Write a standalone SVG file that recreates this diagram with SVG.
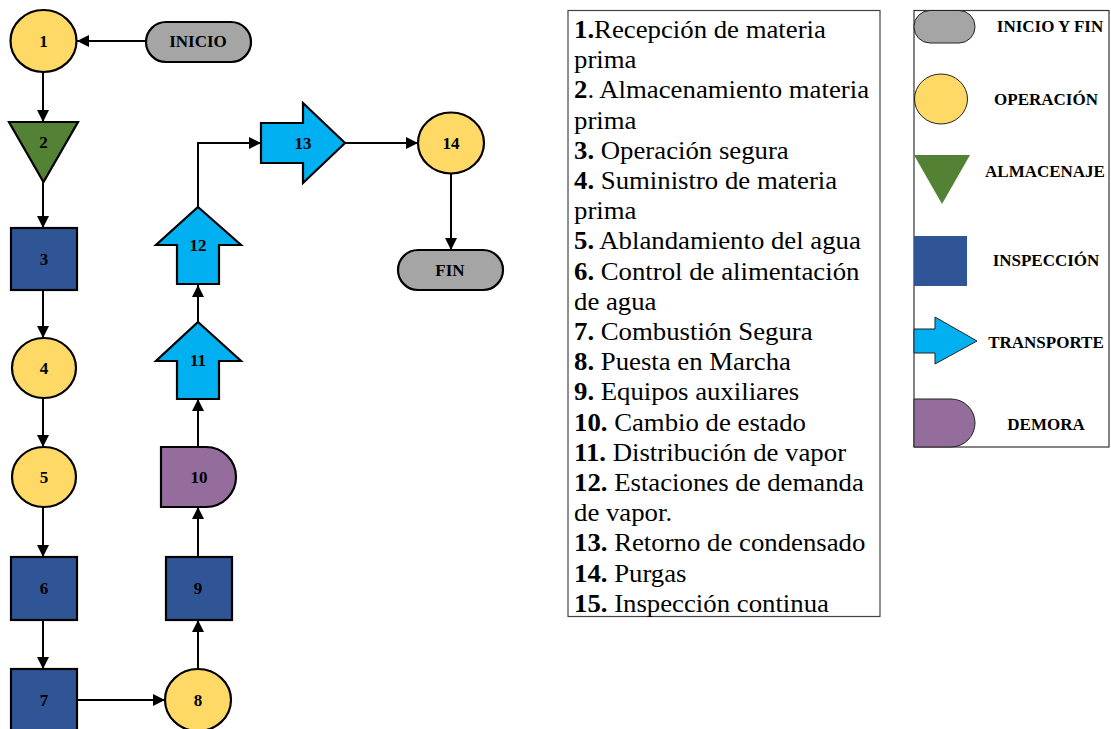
<svg xmlns="http://www.w3.org/2000/svg" width="1111" height="729" viewBox="0 0 1111 729">
<defs>
<marker id="ah" markerUnits="userSpaceOnUse" markerWidth="12" markerHeight="12" viewBox="0 0 12 12" refX="12" refY="6" orient="auto">
<path d="M0,0 L12,6 L0,12 Z" fill="#000"/>
</marker>
</defs>
<style>
text{font-family:'Liberation Serif','DejaVu Serif','Noto Serif',serif}
.lbl{font-weight:bold;font-size:17px;text-anchor:middle;dominant-baseline:central;fill:#000}
.s{stroke:#000;stroke-width:2.2}
.t{stroke:#222;stroke-width:1}
.yel{fill:#FFD966}
.gry{fill:#A5A5A5}
.grn{fill:#548235}
.blu{fill:#2F5597}
.cyn{fill:#00B0F0}
.pur{fill:#956D9C}
.con{fill:none;stroke:#000;stroke-width:2;marker-end:url(#ah)}
.desc{font-size:26px;fill:#000}
.b{font-weight:bold}
</style>
<rect width="1111" height="729" fill="#fff"/>

<g id="connectors">
<path class="con" d="M146,41 H77"/>
<path class="con" d="M43,72 V122"/>
<path class="con" d="M43,182 V228"/>
<path class="con" d="M43,290 V338"/>
<path class="con" d="M43,398 V447"/>
<path class="con" d="M43,507 V557"/>
<path class="con" d="M43,620 V669"/>
<path class="con" d="M77,700 H165"/>
<path class="con" d="M198,669 V620"/>
<path class="con" d="M198,557 V507"/>
<path class="con" d="M198,447 V399"/>
<path class="con" d="M198,322 V285"/>
<path class="con" d="M198,207 V143 H261"/>
<path class="con" d="M345,143 H418"/>
<path class="con" d="M451,174 V250"/>
</g>

<g id="inicio"><rect class="s gry" x="146" y="22" width="105" height="40" rx="20"/><text class="lbl" x="198" y="41">INICIO</text></g>
<g id="n1"><ellipse class="s yel" cx="43.5" cy="41" rx="33" ry="31"/><text class="lbl" x="43.5" y="41">1</text></g>
<g id="n2"><path class="s grn" d="M9,122 H78 L43.5,182 Z"/><text class="lbl" x="43.5" y="142">2</text></g>
<g id="n3"><rect class="s blu" x="11" y="228" width="66" height="62"/><text class="lbl" x="44" y="259">3</text></g>
<g id="n4"><ellipse class="s yel" cx="44" cy="368" rx="32" ry="30"/><text class="lbl" x="44" y="368">4</text></g>
<g id="n5"><ellipse class="s yel" cx="44" cy="477" rx="32" ry="30"/><text class="lbl" x="44" y="477">5</text></g>
<g id="n6"><rect class="s blu" x="11" y="557" width="66" height="63"/><text class="lbl" x="44" y="588">6</text></g>
<g id="n7"><rect class="s blu" x="11" y="669" width="66" height="64"/><text class="lbl" x="44" y="700">7</text></g>
<g id="n8"><ellipse class="s yel" cx="198" cy="700" rx="33" ry="31"/><text class="lbl" x="198" y="700">8</text></g>
<g id="n9"><rect class="s blu" x="166" y="557" width="66" height="63"/><text class="lbl" x="198" y="588">9</text></g>
<g id="n10"><path class="s pur" d="M161,447 H206 A30,30 0 0 1 206,507 H161 Z"/><text class="lbl" x="199" y="477">10</text></g>
<g id="n11"><path class="s cyn" d="M198,322 L241,361 H219 V399 H177 V361 H156 Z"/><text class="lbl" x="198" y="360">11</text></g>
<g id="n12"><path class="s cyn" d="M198,207 L241,245 H219 V284 H177 V245 H156 Z"/><text class="lbl" x="198" y="245">12</text></g>
<g id="n13"><path class="s cyn" d="M261,123 H303 V103 L345,143 L303,183 V163 H261 Z"/><text class="lbl" x="303" y="143">13</text></g>
<g id="n14"><ellipse class="s yel" cx="451" cy="143" rx="33" ry="30.5"/><text class="lbl" x="451" y="143">14</text></g>
<g id="fin"><rect class="s gry" x="398" y="250" width="105" height="40" rx="20"/><text class="lbl" x="450" y="270">FIN</text></g>

<g id="descripcion">
<rect x="568" y="10.5" width="312" height="606" fill="#fff" stroke="#444" stroke-width="1.2"/>
<g transform="translate(574,0) scale(1.03,1)">
<text class="desc" x="0" y="38"><tspan class="b">1.</tspan>Recepción de materia</text>
<text class="desc" x="0" y="68.2">prima</text>
<text class="desc" x="0" y="98.4"><tspan class="b">2</tspan>. Almacenamiento materia</text>
<text class="desc" x="0" y="128.6">prima</text>
<text class="desc" x="0" y="158.8"><tspan class="b">3.</tspan> Operación segura</text>
<text class="desc" x="0" y="189"><tspan class="b">4.</tspan> Suministro de materia</text>
<text class="desc" x="0" y="219.2">prima</text>
<text class="desc" x="0" y="249.4"><tspan class="b">5.</tspan> Ablandamiento del agua</text>
<text class="desc" x="0" y="279.6"><tspan class="b">6.</tspan> Control de alimentación</text>
<text class="desc" x="0" y="309.8">de agua</text>
<text class="desc" x="0" y="340"><tspan class="b">7.</tspan> Combustión Segura</text>
<text class="desc" x="0" y="370.2"><tspan class="b">8.</tspan> Puesta en Marcha</text>
<text class="desc" x="0" y="400.4"><tspan class="b">9.</tspan> Equipos auxiliares</text>
<text class="desc" x="0" y="430.6"><tspan class="b">10.</tspan> Cambio de estado</text>
<text class="desc" x="0" y="460.8"><tspan class="b">11.</tspan> Distribución de vapor</text>
<text class="desc" x="0" y="491"><tspan class="b">12.</tspan> Estaciones de demanda</text>
<text class="desc" x="0" y="521.2">de vapor.</text>
<text class="desc" x="0" y="551.4"><tspan class="b">13.</tspan> Retorno de condensado</text>
<text class="desc" x="0" y="581.6"><tspan class="b">14.</tspan> Purgas</text>
<text class="desc" x="0" y="611.8"><tspan class="b">15.</tspan> Inspección continua</text>
</g>
</g>

<g id="leyenda">
<rect x="914" y="10.5" width="195" height="436.5" fill="#fff" stroke="#333" stroke-width="1.2"/>
<g id="ley-inicio"><rect class="t gry" x="914" y="10.5" width="61" height="32.5" rx="16"/><text class="lbl" x="1050" y="26">INICIO Y FIN</text></g>
<g id="ley-operacion"><ellipse class="t yel" cx="941" cy="99" rx="26.5" ry="25"/><text class="lbl" x="1046" y="99">OPERACIÓN</text></g>
<g id="ley-almacenaje"><path class="grn" d="M914,155 H970 L942,204 Z"/><text class="lbl" x="1045" y="171">ALMACENAJE</text></g>
<g id="ley-inspeccion"><rect class="blu" x="914" y="236" width="53" height="50"/><text class="lbl" x="1046" y="260">INSPECCIÓN</text></g>
<g id="ley-transporte"><path class="t cyn" d="M914,329 H935 V317 L977,341 L935,364 V353 H914 Z"/><text class="lbl" x="1046" y="342">TRANSPORTE</text></g>
<g id="ley-demora"><path class="t pur" d="M914,399 H951 A24,24 0 0 1 951,447 H914 Z"/><text class="lbl" x="1046" y="424">DEMORA</text></g>
</g>
</svg>
